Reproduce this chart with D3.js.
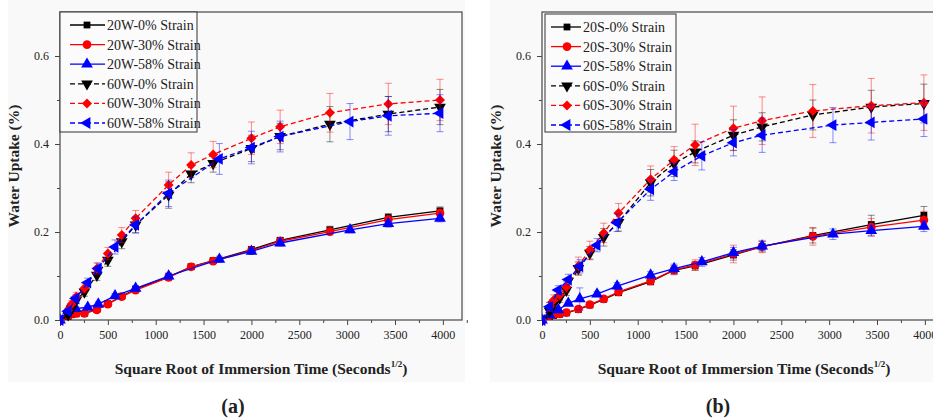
<!DOCTYPE html>
<html>
<head>
<meta charset="utf-8">
<script src="https://cdn.jsdelivr.net/npm/d3@7/dist/d3.min.js"></script>
<style>
  html, body { margin: 0; padding: 0; background: #ffffff; }
  svg { display: block; }
  text { font-family: "Liberation Serif", "DejaVu Serif", serif; fill: #222; }
</style>
</head>
<body>
<svg id="fig" width="933" height="418"></svg>
<script>
// ---- Panel (a): W specimens ----
const xW_a = [0, 85, 120, 170, 255, 385, 500, 645, 790, 1135, 1370, 1600, 2000, 2300, 2820, 3430, 3970];
const xW_b = [0, 85, 165, 290, 400, 575, 790, 1135, 1665, 2000, 2300, 3030, 3430, 3970];
const w20_0  = [0, 0.008, 0.012, 0.014, 0.015, 0.024, 0.037, 0.054, 0.070, 0.098, 0.121, 0.135, 0.160, 0.181, 0.205, 0.233, 0.248];
const w20_30 = [0, 0.010, 0.014, 0.015, 0.015, 0.023, 0.036, 0.053, 0.068, 0.097, 0.121, 0.134, 0.158, 0.179, 0.201, 0.228, 0.243];
const w20_58 = [0, 0.022, 0.026, 0.029, 0.036, 0.055, 0.072, 0.100, 0.138, 0.156, 0.175, 0.205, 0.219, 0.231];
const w60_0  = [0, 0.012, 0.025, 0.045, 0.064, 0.102, 0.136, 0.178, 0.216, 0.284, 0.332, 0.356, 0.390, 0.417, 0.445, 0.468, 0.484];
const w60_30 = [0, 0.022, 0.036, 0.053, 0.072, 0.117, 0.151, 0.193, 0.231, 0.307, 0.352, 0.376, 0.413, 0.439, 0.471, 0.491, 0.500];
const w60_58 = [0, 0.020, 0.049, 0.085, 0.117, 0.166, 0.216, 0.288, 0.366, 0.392, 0.417, 0.451, 0.464, 0.470];
const w20_0_err  = [0, .003, .003, .003, .004, .004, .005, .005, .006, .007, .006, .006, .007, .007, .008, .009, .009];
const w20_30_err = [0, .003, .003, .003, .004, .004, .005, .005, .006, .007, .006, .006, .007, .007, .008, .009, .009];
const w20_58_err = [0, .004, .004, .004, .005, .005, .006, .007, .007, .007, .007, .007, .008, .008];
const w60_0_err  = [0, .005, .006, .008, .010, .012, .014, .016, .018, .030, .020, .020, .030, .030, .040, .040, .040];
const w60_30_err = [0, .006, .008, .010, .010, .013, .014, .017, .018, .029, .028, .030, .037, .038, .044, .047, .047];
const w60_58_err = [0, .006, .008, .010, .012, .016, .018, .030, .035, .037, .035, .041, .044, .042];

// ---- Panel (b): S specimens ----
const xS_a = [0, 80, 120, 185, 255, 380, 500, 645, 800, 1135, 1380, 1600, 2000, 2300, 2830, 3440, 3990];
const xS_b = [0, 80, 170, 275, 395, 575, 785, 1135, 1380, 1670, 2000, 2300, 3040, 3440, 3990];
const s20_0  = [0, 0.008, 0.010, 0.013, 0.016, 0.024, 0.034, 0.047, 0.062, 0.087, 0.113, 0.123, 0.148, 0.167, 0.192, 0.217, 0.238];
const s20_30 = [0, 0.010, 0.012, 0.014, 0.017, 0.025, 0.035, 0.048, 0.064, 0.089, 0.114, 0.125, 0.150, 0.167, 0.190, 0.211, 0.227];
const s20_58 = [0, 0.011, 0.023, 0.038, 0.048, 0.059, 0.077, 0.102, 0.117, 0.132, 0.153, 0.168, 0.195, 0.203, 0.213];
const s60_0  = [0, 0.020, 0.035, 0.050, 0.068, 0.117, 0.152, 0.188, 0.222, 0.312, 0.356, 0.382, 0.420, 0.439, 0.466, 0.484, 0.492];
const s60_30 = [0, 0.030, 0.045, 0.057, 0.075, 0.123, 0.159, 0.198, 0.243, 0.320, 0.364, 0.398, 0.436, 0.453, 0.475, 0.487, 0.494];
const s60_58 = [0, 0.030, 0.068, 0.092, 0.122, 0.170, 0.221, 0.297, 0.337, 0.373, 0.403, 0.420, 0.443, 0.449, 0.457];
const s20_0_err  = [0, .003, .003, .003, .004, .005, .005, .005, .006, .007, .010, .010, .012, .012, .017, .021, .020];
const s20_30_err = [0, .004, .004, .004, .005, .005, .005, .006, .006, .008, .010, .012, .020, .014, .020, .020, .020];
const s20_58_err = [0, .004, .004, .005, .025, .006, .008, .008, .010, .010, .012, .010, .012, .012, .012];
const s60_0_err  = [0, .008, .010, .010, .012, .015, .015, .020, .020, .030, .030, .025, .035, .032, .034, .038, .044];
const s60_30_err = [0, .010, .012, .012, .012, .020, .020, .022, .022, .030, .030, .047, .050, .054, .060, .062, .063];
const s60_58_err = [0, .010, .010, .012, .015, .015, .020, .025, .020, .032, .030, .039, .040, .040, .040];

const xTicks = [0, 500, 1000, 1500, 2000, 2500, 3000, 3500, 4000];
const xMinor = [250, 750, 1250, 1750, 2250, 2750, 3250, 3750, 4250];
const yTicks = [0, 0.2, 0.4, 0.6];
const yMinor = [0.1, 0.3, 0.5];

const legendW = ["20W-0% Strain", "20W-30% Strain", "20W-58% Strain", "60W-0% Strain", "60W-30% Strain", "60W-58% Strain"];
const legendS = ["20S-0% Strain", "20S-30% Strain", "20S-58% Strain", "60S-0% Strain", "60S-30% Strain", "60S-58% Strain"];

const colors = ["#000000", "#ff0000", "#0000ff", "#000000", "#ff0000", "#0000ff"];
// square, circle, up-triangle, down-triangle, diamond, left-triangle
const shapes = [
  { type: d3.symbolSquare,   size: 46, rot: 0 },
  { type: d3.symbolCircle,   size: 60, rot: 0 },
  { type: d3.symbolTriangle, size: 60, rot: 0 },
  { type: d3.symbolTriangle, size: 60, rot: 180 },
  { type: d3.symbolSquare,   size: 50, rot: 45 },
  { type: d3.symbolTriangle, size: 60, rot: -90 }
];
const dashed = [false, false, false, true, true, true];

const svg = d3.select("#fig");

function panel(opts) {
  const g = svg.append("g");
  const { x0, x1, yTop, yBot } = opts;

  // light paper backdrop of the figure panel
  g.append("rect").attr("x", opts.bgX).attr("y", 0).attr("width", opts.bgW).attr("height", 382)
    .attr("fill", "#f9f9f9");

  const x = d3.scaleLinear().domain([0, 4200]).range([x0, x1]);
  const y = d3.scaleLinear().domain([0, 0.7]).range([yBot, yTop]);

  const clipId = "clip" + opts.tag;
  g.append("clipPath").attr("id", clipId).append("rect")
    .attr("x", x0).attr("y", yTop - 6).attr("width", x1 - x0).attr("height", yBot - yTop + 12);

  // axes
  g.append("g").attr("transform", `translate(0,${yBot})`)
    .call(d3.axisBottom(x).tickValues(xTicks).tickSize(5).tickPadding(5).tickFormat(d3.format("d")));
  g.append("g").attr("transform", `translate(0,${yBot})`)
    .call(d3.axisBottom(x).tickValues(xMinor).tickSize(3).tickFormat(""));
  g.append("g").attr("transform", `translate(${x0},0)`)
    .call(d3.axisLeft(y).tickValues(yTicks).tickSize(5).tickPadding(6).tickFormat(d3.format(".1f")));
  g.append("g").attr("transform", `translate(${x0},0)`)
    .call(d3.axisLeft(y).tickValues(yMinor).tickSize(3).tickFormat(""));
  g.selectAll(".domain").remove();
  g.selectAll(".tick line").attr("stroke", "#444").attr("stroke-width", 1);
  g.selectAll(".tick text").attr("font-size", 12).attr("fill", "#222")
    .style("font-family", "'Liberation Serif', serif");

  // frame
  g.append("rect").attr("x", x0).attr("y", yTop).attr("width", x1 - x0).attr("height", yBot - yTop)
    .attr("fill", "none").attr("stroke", "#555").attr("stroke-width", 1.3);

  const plot = g.append("g").attr("clip-path", `url(#${clipId})`);

  opts.series.forEach((s, i) => {
    const pts = s.xs.map((xv, k) => ({ x: xv, y: s.ys[k], e: s.err[k] }));
    const col = colors[i];
    // error bars
    const eb = plot.append("g").attr("stroke", col).attr("stroke-opacity", 0.45).attr("stroke-width", 1);
    pts.filter(p => p.e > 0).forEach(p => {
      const px = x(p.x), yt = y(p.y + p.e), yb = y(p.y - p.e);
      eb.append("line").attr("x1", px).attr("x2", px).attr("y1", yt).attr("y2", yb);
      eb.append("line").attr("x1", px - 3.5).attr("x2", px + 3.5).attr("y1", yt).attr("y2", yt);
      eb.append("line").attr("x1", px - 3.5).attr("x2", px + 3.5).attr("y1", yb).attr("y2", yb);
    });
    // connecting line
    plot.append("path").datum(pts)
      .attr("d", d3.line().x(p => x(p.x)).y(p => y(p.y)))
      .attr("fill", "none").attr("stroke", col).attr("stroke-width", 1.3)
      .attr("stroke-dasharray", dashed[i] ? "5,3" : null);
    // markers
    const sh = shapes[i];
    plot.append("g").selectAll("path").data(pts).join("path")
      .attr("d", d3.symbol().type(sh.type).size(sh.size))
      .attr("transform", p => `translate(${x(p.x)},${y(p.y)}) rotate(${sh.rot})`)
      .attr("fill", col);
  });

  // legend
  const L = opts.legend;
  g.append("rect").attr("x", L.x).attr("y", L.y).attr("width", L.w).attr("height", L.h)
    .attr("fill", "#fbfbfb").attr("stroke", "#333").attr("stroke-width", 1);
  opts.labels.forEach((lab, i) => {
    const cy = L.y + 13 + i * 19.6;
    const sh = shapes[i];
    g.append("line").attr("x1", L.lx0).attr("x2", L.lx1).attr("y1", cy).attr("y2", cy)
      .attr("stroke", colors[i]).attr("stroke-width", 1.3)
      .attr("stroke-dasharray", dashed[i] ? "5,3" : null);
    g.append("path").attr("d", d3.symbol().type(sh.type).size(sh.size))
      .attr("transform", `translate(${L.mx},${cy}) rotate(${sh.rot})`).attr("fill", colors[i]);
    g.append("text").attr("x", L.tx).attr("y", cy).attr("dy", "0.35em")
      .attr("font-size", 14).text(lab);
  });

  // axis titles
  g.append("text").attr("transform", `translate(${opts.yTitleX},${(yTop + yBot) / 2}) rotate(-90)`)
    .attr("text-anchor", "middle").attr("font-size", 15.5).attr("font-weight", "bold")
    .text("Water Uptake (%)");
  const xt = g.append("text").attr("x", opts.xTitleX).attr("y", 374)
    .attr("text-anchor", "middle").attr("font-size", 15.5).attr("font-weight", "bold");
  xt.append("tspan").text("Square Root of Immersion Time (Seconds");
  xt.append("tspan").attr("dy", -7).attr("font-size", 9).text("1/2");
  xt.append("tspan").attr("dy", 7).text(")");

  // panel tag
  g.append("text").attr("x", opts.tagX).attr("y", 413).attr("text-anchor", "middle")
    .attr("font-size", 20).attr("font-weight", "bold")
    .text(opts.tagText);
}

panel({
  tag: "a", tagText: "(a)", tagX: 233,
  x0: 60, x1: 462, yTop: 12, yBot: 320, bgX: 8, bgW: 457,
  yTitleX: 19, xTitleX: 261,
  legend: { x: 60, y: 12, w: 137, h: 120, lx0: 70, lx1: 105, mx: 87, tx: 107 },
  labels: legendW,
  series: [
    { xs: xW_a, ys: w20_0,  err: w20_0_err },
    { xs: xW_a, ys: w20_30, err: w20_30_err },
    { xs: xW_b, ys: w20_58, err: w20_58_err },
    { xs: xW_a, ys: w60_0,  err: w60_0_err },
    { xs: xW_a, ys: w60_30, err: w60_30_err },
    { xs: xW_b, ys: w60_58, err: w60_58_err }
  ]
});

panel({
  tag: "b", tagText: "(b)", tagX: 718,
  x0: 542, x1: 944, yTop: 12, yBot: 320, bgX: 490, bgW: 443,
  yTitleX: 501, xTitleX: 744,
  legend: { x: 545, y: 14, w: 131, h: 118, lx0: 551, lx1: 581, mx: 567, tx: 583 },
  labels: legendS,
  series: [
    { xs: xS_a, ys: s20_0,  err: s20_0_err },
    { xs: xS_a, ys: s20_30, err: s20_30_err },
    { xs: xS_b, ys: s20_58, err: s20_58_err },
    { xs: xS_a, ys: s60_0,  err: s60_0_err },
    { xs: xS_a, ys: s60_30, err: s60_30_err },
    { xs: xS_b, ys: s60_58, err: s60_58_err }
  ]
});
</script>
</body>
</html>
